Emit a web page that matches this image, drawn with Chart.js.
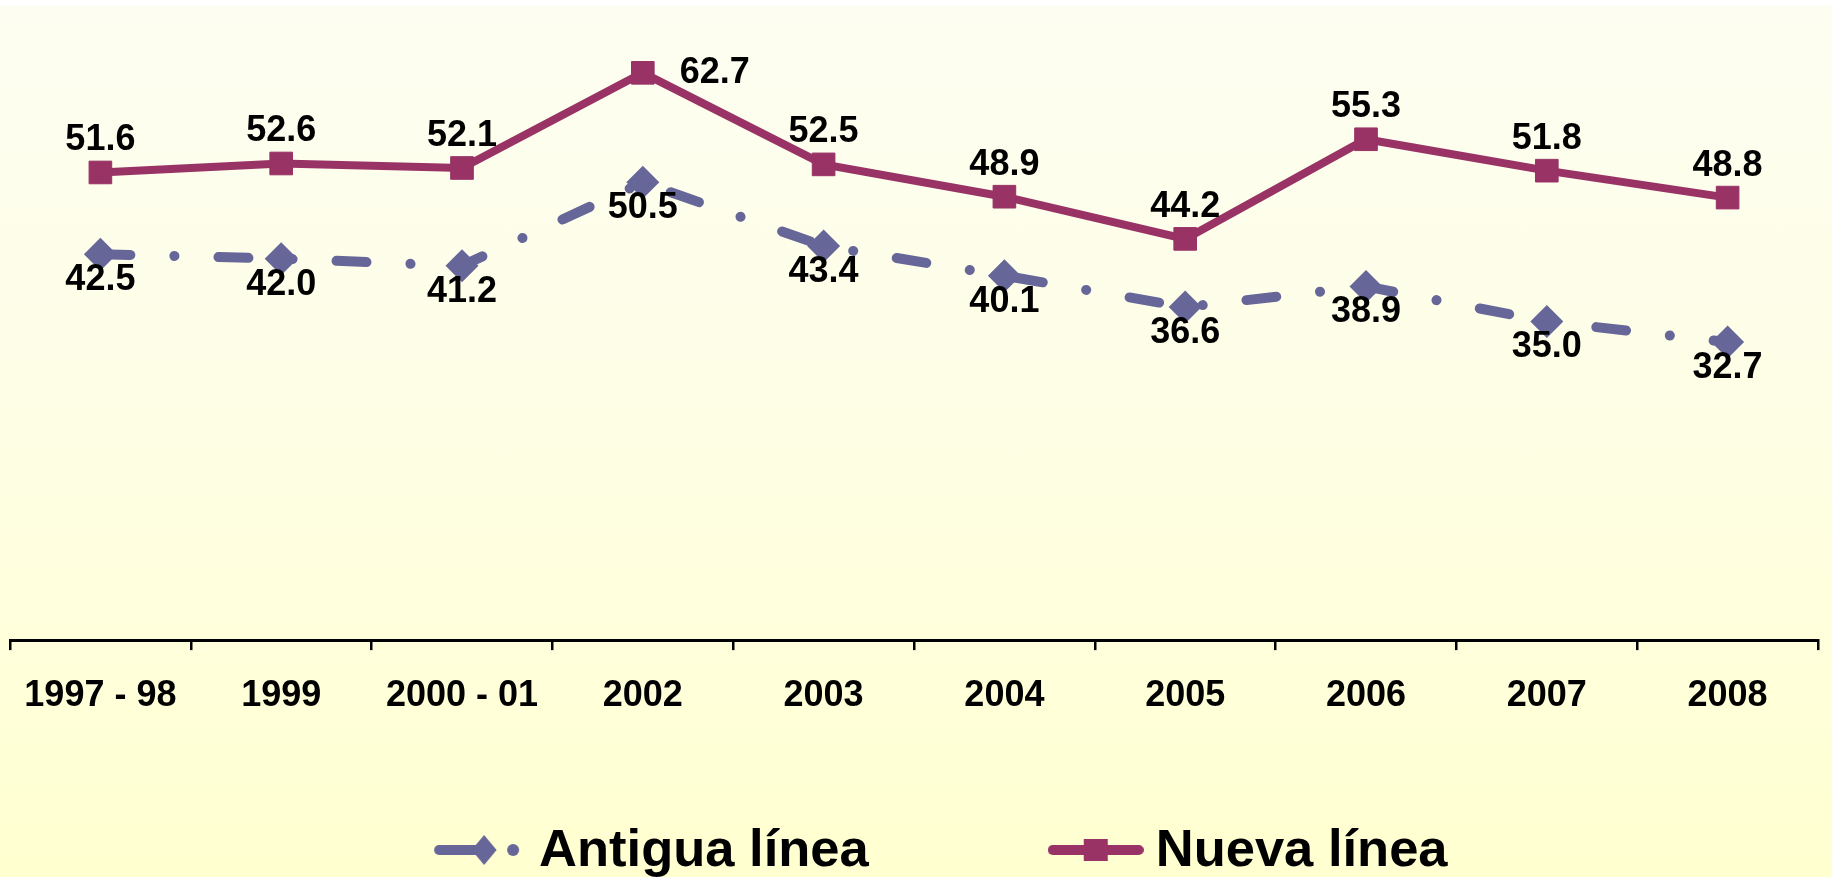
<!DOCTYPE html>
<html>
<head>
<meta charset="utf-8">
<script src="https://cdn.jsdelivr.net/npm/chart.js@4.4.1/dist/chart.umd.min.js"></script>
<style>
html,body{margin:0;padding:0;width:1832px;height:877px;overflow:hidden;}
body{background:linear-gradient(to bottom,#ffffff 0px,#ffffff 5px,#fdfef1 6px,#fefee6 400px,#ffffd0 877px);}
#wrap{position:relative;width:1832px;height:877px;}
canvas{display:block;}
</style>
</head>
<body>
<div id="wrap"><canvas id="c" width="1832" height="877"></canvas></div>
<script>
// ---- data ----
const categories = ['1997 - 98','1999','2000 - 01','2002','2003','2004','2005','2006','2007','2008'];
const antiguaValues = [42.5, 42.0, 41.2, 50.5, 43.4, 40.1, 36.6, 38.9, 35.0, 32.7];
const nuevaValues = [51.6, 52.6, 52.1, 62.7, 52.5, 48.9, 44.2, 55.3, 51.8, 48.8];
const seriesNames = ['Antigua línea', 'Nueva línea'];
const yMin = -0.5;
const yMax = 69.7;

// ---- styles ----
const colAntigua = '#666699';
const colNueva = '#993366';
const FONT = '"Liberation Sans", Arial, Helvetica, sans-serif';

// legend marker images
function makeAntiguaIcon() {
  const c = document.createElement('canvas');
  c.width = 88; c.height = 34;
  const g = c.getContext('2d');
  const cy = 17;
  g.strokeStyle = colAntigua; g.fillStyle = colAntigua;
  g.lineWidth = 10; g.lineCap = 'round';
  g.beginPath(); g.moveTo(7, cy); g.lineTo(50, cy); g.stroke();
  g.beginPath();
  g.moveTo(52 - 12.5, cy); g.lineTo(52, cy - 15); g.lineTo(52 + 12.5, cy); g.lineTo(52, cy + 15);
  g.closePath(); g.fill();
  g.beginPath(); g.arc(81, cy, 6, 0, Math.PI * 2); g.fill();
  return c;
}
function makeNuevaIcon() {
  const c = document.createElement('canvas');
  c.width = 96; c.height = 34;
  const g = c.getContext('2d');
  const cy = 17;
  g.strokeStyle = colNueva; g.fillStyle = colNueva;
  g.lineWidth = 10; g.lineCap = 'round';
  g.beginPath(); g.moveTo(5, cy); g.lineTo(91, cy); g.stroke();
  g.fillRect(48 - 12, cy - 11, 24, 22);
  return c;
}

const valueLabels = {
  id: 'valueLabels',
  afterDatasetsDraw(chart) {
    const ctx = chart.ctx;
    ctx.save();
    ctx.font = 'bold 36px ' + FONT;
    ctx.fillStyle = '#000';
    ctx.textAlign = 'center';
    ctx.textBaseline = 'middle';
    chart.data.datasets.forEach((ds, di) => {
      const meta = chart.getDatasetMeta(di);
      const max = Math.max(...ds.data);
      meta.data.forEach((pt, i) => {
        const v = ds.data[i];
        let x = pt.x, y = pt.y;
        if (ds.labelSide === 'below') {
          y += 26;
        } else if (v === max) {
          x += 72;
        } else {
          y -= 32;
        }
        ctx.fillText(v.toFixed(1), x, y);
      });
    });
    ctx.restore();
  }
};

const customLegend = {
  id: 'customLegend',
  afterDraw(chart) {
    const ctx = chart.ctx;
    ctx.save();
    ctx.font = 'bold 52.5px ' + FONT;
    ctx.fillStyle = '#000';
    ctx.textBaseline = 'middle';
    ctx.textAlign = 'left';
    const icons = chart.data.datasets.map(ds => ds.legendIcon);
    const gapIcon = [19, 12];
    const gapItem = 179;
    const widths = chart.data.datasets.map((ds, i) => icons[i].width + gapIcon[i] + ctx.measureText(ds.label).width);
    const total = widths.reduce((a, b) => a + b, 0) + gapItem * (widths.length - 1);
    const cx = chart.width * 0.513;
    let x = cx - total / 2;
    const cy = 850;
    chart.data.datasets.forEach((ds, i) => {
      const ic = icons[i];
      ctx.drawImage(ic, x, cy - ic.height / 2);
      ctx.fillText(ds.label, x + ic.width + gapIcon[i], cy + 2);
      x += widths[i] + gapItem;
    });
    ctx.restore();
  }
};

new Chart(document.getElementById('c'), {
  type: 'line',
  data: {
    labels: categories,
    datasets: [
      {
        label: seriesNames[0],
        data: antiguaValues,
        borderColor: colAntigua,
        backgroundColor: colAntigua,
        borderWidth: 10,
        borderDash: [30, 44, 0.1, 44],
        borderCapStyle: 'round',
        borderJoinStyle: 'round',
        pointStyle: 'rectRot',
        pointRadius: 16.5,
        pointBorderWidth: 0,
        pointBackgroundColor: colAntigua,
        pointBorderColor: colAntigua,
        tension: 0,
        fill: false,
        clip: false,
        labelSide: 'below',
        legendIcon: makeAntiguaIcon()
      },
      {
        label: seriesNames[1],
        data: nuevaValues,
        borderColor: colNueva,
        backgroundColor: colNueva,
        borderWidth: 8,
        borderCapStyle: 'round',
        borderJoinStyle: 'miter',
        pointStyle: 'rect',
        pointRadius: 16,
        pointBorderWidth: 1,
        pointBackgroundColor: colNueva,
        pointBorderColor: colNueva,
        tension: 0,
        fill: false,
        clip: false,
        labelSide: 'above',
        legendIcon: makeNuevaIcon()
      }
    ]
  },
  options: {
    responsive: false,
    devicePixelRatio: 1,
    animation: false,
    layout: { autoPadding: false, padding: { left: 10, right: 14, top: 10, bottom: 135 } },
    plugins: {
      legend: { display: false },
      tooltip: { enabled: false },
      title: { display: false }
    },
    scales: {
      x: {
        type: 'category',
        offset: true,
        grid: {
          offset: true,
          drawOnChartArea: false,
          drawTicks: true,
          tickLength: 10,
          color: '#000',
          lineWidth: 2.5
        },
        border: { display: true, color: '#000', width: 3 },
        ticks: {
          color: '#000',
          font: { family: FONT, size: 36, weight: 'bold', lineHeight: 2.33 },
          padding: 4,
          maxRotation: 0,
          autoSkip: false
        }
      },
      y: {
        display: false,
        min: yMin,
        max: yMax
      }
    }
  },
  plugins: [valueLabels, customLegend]
});
</script>
</body>
</html>
